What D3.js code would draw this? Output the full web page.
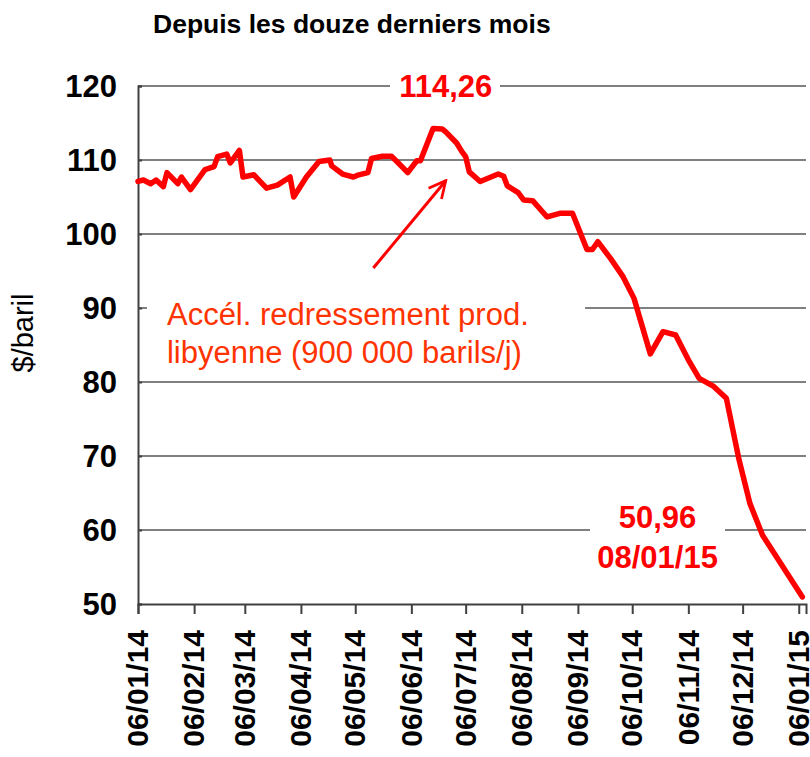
<!DOCTYPE html>
<html>
<head>
<meta charset="utf-8">
<script src="https://cdn.jsdelivr.net/npm/d3@7"></script>
<style>
  body { margin: 0; background: #fff; }
  text { font-family: "Liberation Sans", Arial, sans-serif; }
</style>
</head>
<body>
<div class="container"></div>
<script>
// weekly-ish Brent price readings
const dates = [
  "06/01/14","09/01/14","13/01/14","16/01/14","20/01/14","22/01/14","28/01/14","30/01/14",
  "04/02/14","12/02/14","17/02/14","19/02/14","24/02/14","26/02/14","03/03/14","05/03/14",
  "11/03/14","18/03/14","24/03/14","31/03/14","02/04/14","09/04/14","16/04/14","22/04/14",
  "23/04/14","29/04/14","05/05/14","08/05/14","13/05/14","15/05/14","21/05/14","26/05/14",
  "29/05/14","04/06/14","09/06/14","11/06/14","18/06/14","23/06/14","25/06/14","01/07/14",
  "04/07/14","06/07/14","08/07/14","14/07/14","24/07/14","27/07/14","29/07/14","04/08/14",
  "07/08/14","12/08/14","20/08/14","27/08/14","03/09/14","11/09/14","14/09/14","17/09/14",
  "24/09/14","01/10/14","07/10/14","16/10/14","23/10/14","30/10/14","06/11/14","12/11/14",
  "20/11/14","27/11/14","04/12/14","10/12/14","17/12/14","08/01/15"
];
const prices = [
  107.1, 107.3, 106.8, 107.3, 106.4, 108.3, 106.8, 107.7,
  106.0, 108.7, 109.1, 110.45, 110.8, 109.6, 111.3, 107.7,
  108.0, 106.2, 106.6, 107.7, 105.0, 107.7, 109.8, 110.0,
  109.2, 108.1, 107.7, 108.0, 108.3, 110.2, 110.5, 110.5,
  109.8, 108.3, 109.9, 109.9, 114.26, 114.2, 113.8, 112.3,
  111.1, 110.45, 108.4, 107.1, 108.1, 107.8, 106.5, 105.6,
  104.6, 104.5, 102.3, 102.8, 102.8, 97.9, 97.9, 98.96,
  96.7, 94.2, 91.3, 83.8, 86.8, 86.35, 83.0, 80.5,
  79.4, 77.8, 69.5, 63.6, 59.3, 50.96
];
const tickLabels = [
  "06/01/14","06/02/14","06/03/14","06/04/14","06/05/14","06/06/14","06/07/14",
  "06/08/14","06/09/14","06/10/14","06/11/14","06/12/14","06/01/15"
];
const yTicks = [50, 60, 70, 80, 90, 100, 110, 120];

const parse = d3.timeParse("%d/%m/%y");
const data = dates.map((d, i) => ({date: parse(d), value: prices[i]}));

const width = 810, height = 757;
const margin = {top: 86, right: 4, bottom: 153, left: 138};

const svg = d3.select('.container')
    .append('svg')
    .attr('width', width)
    .attr('height', height);

svg.append('rect').attr('width', width).attr('height', height).attr('fill', '#fff');

const x = d3.scaleTime()
    .domain([parse("06/01/14"), parse("10/01/15")])
    .range([margin.left, width - margin.right]);
const y = d3.scaleLinear()
    .domain([50, 120])
    .range([height - margin.bottom, margin.top]);

// title
svg.append('text')
    .attr('x', 153).attr('y', 33)
    .attr('font-size', 26.5).attr('font-weight', 'bold')
    .text('Depuis les douze derniers mois');

// gridlines
svg.append('g')
    .selectAll('line')
    .data(yTicks.filter(v => v > 50))
    .enter().append('line')
    .attr('x1', margin.left).attr('x2', width - margin.right)
    .attr('y1', d => y(d)).attr('y2', d => y(d))
    .attr('stroke', '#808080').attr('stroke-width', 2);

// white boxes behind annotations (they break the gridlines)
svg.append('rect').attr('x', 390).attr('y', y(120) - 20).attr('width', 110).attr('height', 40).attr('fill', '#fff');
svg.append('rect').attr('x', 147).attr('y', y(90) - 20).attr('width', 438).attr('height', 60).attr('fill', '#fff');
svg.append('rect').attr('x', 590).attr('y', y(60) - 30).attr('width', 135).attr('height', 60).attr('fill', '#fff');

// y axis
const yAxis = svg.append('g')
    .attr('transform', `translate(${margin.left},0)`)
    .call(d3.axisRight(y).tickValues(yTicks).tickSize(4).tickFormat(''));
yAxis.select('.domain').attr('stroke', '#404040').attr('stroke-width', 2);
yAxis.selectAll('.tick line').attr('stroke', '#404040').attr('stroke-width', 2);

svg.append('g')
    .selectAll('text')
    .data(yTicks)
    .enter().append('text')
    .attr('x', 117)
    .attr('y', d => y(d))
    .attr('dy', '0.36em')
    .attr('text-anchor', 'end')
    .attr('font-size', 31).attr('font-weight', 'bold')
    .text(d => d);

svg.append('text')
    .attr('transform', `translate(33,${(y(80) + y(90)) / 2 - 12}) rotate(-90)`)
    .attr('text-anchor', 'middle')
    .attr('font-size', 29)
    .text('$/baril');

// x axis
const xAxis = svg.append('g')
    .attr('transform', `translate(0,${y(50)})`)
    .call(d3.axisBottom(x).tickValues(tickLabels.map(parse)).tickSize(10).tickFormat(''));
xAxis.select('.domain').attr('stroke', '#404040').attr('stroke-width', 2);
xAxis.selectAll('.tick line').attr('stroke', '#404040').attr('stroke-width', 2);

svg.append('g')
    .selectAll('text')
    .data(tickLabels)
    .enter().append('text')
    .attr('transform', d => `translate(${x(parse(d))},${y(50) + 26}) rotate(-90)`)
    .attr('dy', '0.34em')
    .attr('text-anchor', 'end')
    .attr('font-size', 30).attr('font-weight', 'bold')
    .text(d => d);

// price line
const line = d3.line()
    .x(d => x(d.date))
    .y(d => y(d.value));

svg.append('path')
    .datum(data)
    .attr('fill', 'none')
    .attr('stroke', '#ff0000')
    .attr('stroke-width', 5.5)
    .attr('stroke-linejoin', 'round')
    .attr('stroke-linecap', 'round')
    .attr('d', line);

// annotations
svg.append('text')
    .attr('x', x(parse("25/06/14"))).attr('y', y(120))
    .attr('dy', '0.36em')
    .attr('text-anchor', 'middle')
    .attr('font-size', 31).attr('font-weight', 'bold').attr('fill', '#ff0000')
    .text('114,26');

const endLabel = svg.append('text')
    .attr('text-anchor', 'middle')
    .attr('font-size', 31).attr('font-weight', 'bold').attr('fill', '#ff0000');
endLabel.append('tspan').attr('x', x(parse("20/10/14"))).attr('y', y(60) - 2).text('50,96');
endLabel.append('tspan').attr('x', x(parse("20/10/14"))).attr('y', y(60) + 38).text('08/01/15');

const note = svg.append('text')
    .attr('font-size', 31).attr('fill', '#ff3300');
note.append('tspan').attr('x', x(parse("22/01/14"))).attr('y', y(90) + 17).text('Accél. redressement prod.');
note.append('tspan').attr('x', x(parse("22/01/14"))).attr('y', y(90) + 55).text('libyenne (900 000 barils/j)');

// arrow
svg.append('defs').append('marker')
    .attr('id', 'head')
    .attr('viewBox', '0 0 10 10')
    .attr('refX', 9).attr('refY', 5)
    .attr('markerWidth', 7).attr('markerHeight', 7)
    .attr('markerUnits', 'strokeWidth')
    .attr('orient', 'auto')
    .append('path')
    .attr('d', 'M1,1 L9,5 L1,9')
    .attr('fill', 'none')
    .attr('stroke', '#ff0000')
    .attr('stroke-width', 1.3);

svg.append('line')
    .attr('x1', x(parse("16/05/14"))).attr('y1', y(95.4))
    .attr('x2', x(parse("25/06/14"))).attr('y2', y(107.2))
    .attr('stroke', '#ff0000')
    .attr('stroke-width', 3)
    .attr('marker-end', 'url(#head)');
</script>
</body>
</html>
